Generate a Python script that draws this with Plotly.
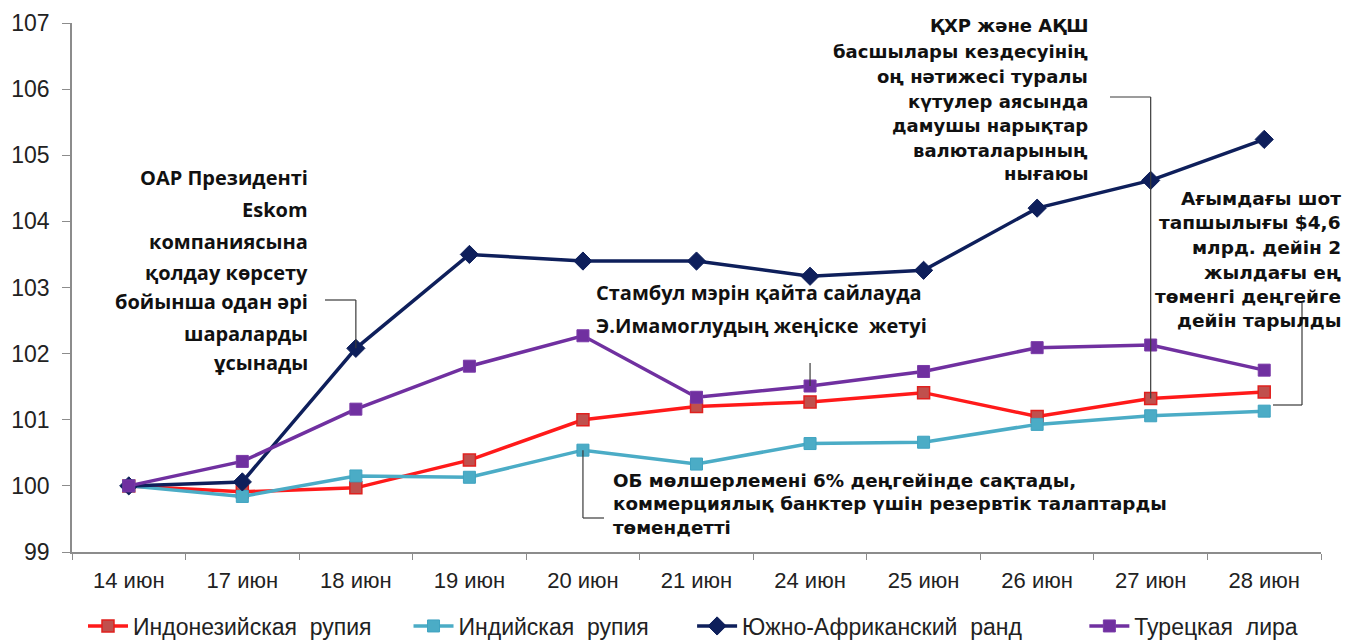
import plotly.graph_objects as go

categories = ["14 июн", "17 июн", "18 июн", "19 июн", "20 июн", "21 июн",
              "24 июн", "25 июн", "26 июн", "27 июн", "28 июн"]
idr = [100, 99.91, 99.97, 100.39, 101.0, 101.2, 101.27, 101.41, 101.05, 101.32, 101.42]
inr = [100, 99.84, 100.15, 100.13, 100.54, 100.33, 100.64, 100.66, 100.93, 101.06, 101.13]
zar = [100, 100.06, 102.08, 103.5, 103.4, 103.4, 103.17, 103.26, 104.2, 104.62, 105.24]
try_ = [100, 100.37, 101.16, 101.81, 102.27, 101.34, 101.51, 101.73, 102.09, 102.13, 101.75]
series_names = ["Индонезийская рупия", "Индийская рупия", "Южно-Африканский ранд", "Турецкая лира"]
y_ticks = [99, 100, 101, 102, 103, 104, 105, 106, 107]

W, H = 1346, 642
L, R, T, B = 72, 25, 23, 90
PX0, PX1 = L, W - R
PY0, PY1 = T, H - B
YMIN, YMAX = 99, 107
N = len(categories)
step = (PX1 - PX0) / N


def X(px):
    return (px - PX0) / step - 0.5


def Y(py):
    return YMAX - (py - PY0) / (PY1 - PY0) * (YMAX - YMIN)


def XP(px):
    return (px - PX0) / (PX1 - PX0)


def YP(py):
    return (PY1 - py) / (PY1 - PY0)


fig = go.Figure()
styles = [
    dict(line=dict(color="#FF1A1A", width=3.5),
         marker=dict(symbol="square", size=12, color="#C0504D", line=dict(color="#E0201E", width=1.5))),
    dict(line=dict(color="#4BACC6", width=3.5),
         marker=dict(symbol="square", size=12, color="#4BACC6", line=dict(color="#3FA3C0", width=1))),
    dict(line=dict(color="#0E1F5B", width=3.5),
         marker=dict(symbol="diamond", size=14, color="#0E1F5B", line=dict(color="#0E1F5B", width=1))),
    dict(line=dict(color="#7030A0", width=3.5),
         marker=dict(symbol="square", size=12, color="#7030A0", line=dict(color="#7A3AA8", width=1))),
]
pads = [5, 6, 9, 0]
for name, vals, st, pad in zip(series_names, [idr, inr, zar, try_], styles, pads):
    label = name.replace(" ", "\u00a0 ") + "\u00a0" * pad
    fig.add_trace(go.Scatter(x=categories, y=vals, name=label,
                             mode="lines+markers", line=st["line"], marker=st["marker"]))

ann = []


def lines(texts, px_edge, centers, anchor, family, size):
    for t, cy in zip(texts, centers):
        ann.append(dict(x=XP(px_edge), y=YP(cy), xref="paper", yref="paper", text="<b>" + t + "</b>",
                        showarrow=False, xanchor=anchor, yanchor="middle",
                        font=dict(family=family, size=size, color="#111111")))


humanist = "Open Sans, Noto Sans, sans-serif"
wide = "DejaVu Sans, Verdana, sans-serif"

lines(["ОАР Президенті", "Eskom", "компаниясына", "қолдау көрсету", "бойынша одан әрі",
       "шараларды", "ұсынады"], 310, [177, 209, 241, 272, 302, 333, 363], "right", humanist, 20)
lines(["ҚХР және АҚШ", "басшылары кездесуінің", "оң нәтижесі туралы", "күтулер аясында",
       "дамушы нарықтар", "валюталарының", "нығаюы"], 1090, [25, 52, 77, 102, 126, 150, 173],
      "right", wide, 18)
lines(["Ағымдағы шот", "тапшылығы $4,6", "млрд. дейін 2", "жылдағы ең", "төменгі деңгейге",
       "дейін тарылды"], 1343, [198, 223, 248, 272, 296, 320], "right", wide, 18.5)
lines(["Стамбул мэрін қайта сайлауда", "Э.Имамоглудың жеңіске  жетуі"], 594, [292, 325],
      "left", humanist, 20)
lines(["ОБ мөлшерлемені 6% деңгейінде сақтады,", "коммерциялық банктер үшін резервтік талаптарды",
       "төмендетті"], 611, [480, 503, 527], "left", wide, 18.3)

shapes = []
lc = dict(color="#3A3A3A", width=1.2)


def seg(x0, y0, x1, y1):
    shapes.append(dict(type="line", xref="x", yref="y", x0=x0, y0=y0, x1=x1, y1=y1, line=lc))


# connectors
seg(X(325), Y(300), 2, Y(300)); seg(2, Y(300), 2, zar[2])
seg(X(1110), Y(97), 9, Y(97)); seg(9, Y(97), 9, idr[9])
seg(X(1302), Y(303), X(1302), Y(405)); seg(X(1302), Y(405), X(1273), Y(405))
seg(6, Y(363), 6, try_[6])
seg(4, inr[4], 4, Y(518)); seg(4, Y(518), X(604), Y(518))

fig.update_layout(
    width=W, height=H,
    margin=dict(l=L, r=R, t=T, b=B, autoexpand=False),
    paper_bgcolor="white", plot_bgcolor="white",
    annotations=ann, shapes=shapes,
    showlegend=True,
    legend=dict(orientation="h", xref="container", x=693 / W, xanchor="center",
                y=YP(626), yanchor="middle",
                font=dict(family="Liberation Sans, Arial, sans-serif", size=23, color="#222222"),
                itemwidth=40, traceorder="normal"),
    xaxis=dict(type="category", categoryorder="array", categoryarray=categories,
               range=[-0.5, N - 0.5], showgrid=False, showline=True, linecolor="#8C8C8C",
               linewidth=1.5, ticks="outside", tickson="boundaries", ticklen=6,
               tickcolor="#8C8C8C",
               tickfont=dict(family="Liberation Sans, Arial, sans-serif", size=22, color="#222222"),
               ticklabelstandoff=8, zeroline=False, automargin=False),
    yaxis=dict(range=[YMIN, YMAX], tickvals=y_ticks, showgrid=False, showline=True,
               linecolor="#8C8C8C", linewidth=1.5, ticks="outside", ticklen=8,
               tickcolor="#8C8C8C",
               tickfont=dict(family="Liberation Sans, Arial, sans-serif", size=23, color="#222222"),
               ticklabelstandoff=8, zeroline=False, automargin=False),
)

fig.write_html("out.html", config={"displayModeBar": False},
               post_script="document.body.style.margin='0';")
